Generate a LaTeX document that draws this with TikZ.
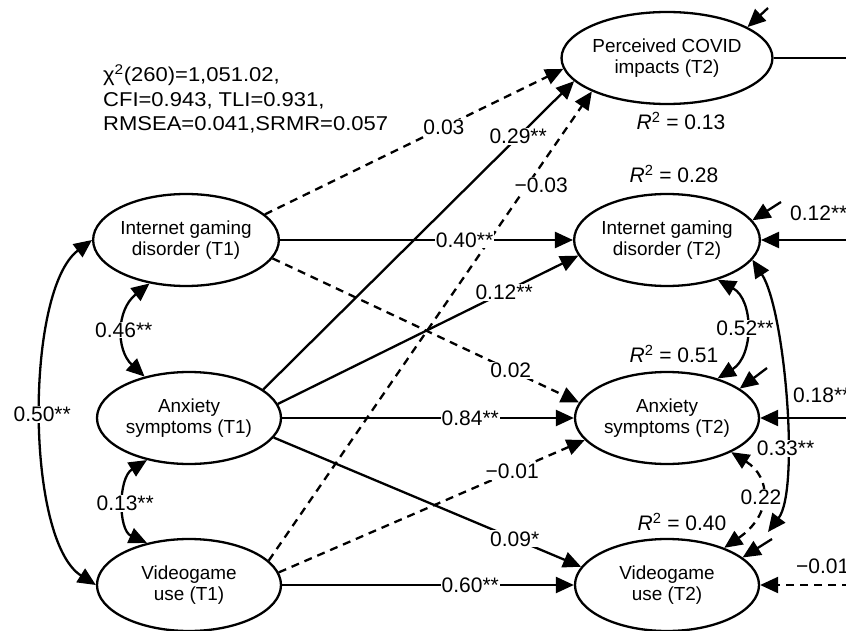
\documentclass[tikz,border=0pt]{standalone}
\usepackage{fontspec}
\setmainfont{Liberation Sans}
\newfontfamily\fitfont[FakeStretch=1.1]{Liberation Sans}
\usetikzlibrary{arrows.meta,shapes.geometric}
\tikzset{
  lv/.style={ellipse, draw, line width=2.3pt, minimum width=184pt, minimum height=92pt,
    inner sep=0pt, align=center, font=\fontsize{18.9}{21}\selectfont},
  tipa/.tip={Triangle[length=18pt,width=16pt]},
  pathline/.style={line width=2.3pt, -tipa},
  plain/.style={line width=2.3pt},
  cov/.style={line width=2.3pt, tipa-tipa},
  dsh/.style={dash pattern=on 8pt off 6pt},
  lbl/.style={fill=white, inner sep=1pt, font=\fontsize{21}{24}\selectfont},
  edgelbl/.style={inner sep=0pt, anchor=west, font=\fontsize{21}{24}\selectfont},
  rsq/.style={inner sep=0pt, font=\fontsize{21}{24}\selectfont},
  fitline/.style={inner sep=0pt, anchor=base west, font=\fitfont\fontsize{20}{24}\selectfont},
}
\begin{document}
\begin{tikzpicture}[x=1pt,y=-1pt]
\useasboundingbox (0,0) rectangle (846,631);
\clip (0,0) rectangle (846,631);

% latent variables
\node[lv] (igd1) at (186,240) {Internet gaming\\disorder (T1)};
\node[lv] (anx1) at (189,418) {Anxiety\\symptoms (T1)};
\node[lv] (vg1)  at (189,585) {Videogame\\use (T1)};
\node[lv] (cov2) at (667,58)  {Perceived COVID\\impacts (T2)};
\node[lv] (igd2) at (667,240) {Internet gaming\\disorder (T2)};
\node[lv] (anx2) at (667,418) {Anxiety\\symptoms (T2)};
\node[lv] (vg2)  at (667,585) {Videogame\\use (T2)};

% fit statistics
\node[fitline] (fit1) at (103,82)  {χ\textsuperscript{2}(260)=1,051.02,};
\node[fitline] (fit2) at (103,107) {CFI=0.943, TLI=0.931,};
\node[fitline] (fit3) at (103,131) {RMSEA=0.041,SRMR=0.057};

% R squared
\node[rsq] (r2cov) at (681,121) {\textit{R}\textsuperscript{2} = 0.13};
\node[rsq] (r2igd) at (674,174) {\textit{R}\textsuperscript{2} = 0.28};
\node[rsq] (r2anx) at (674,354) {\textit{R}\textsuperscript{2} = 0.51};
\node[rsq] (r2vg)  at (682,522) {\textit{R}\textsuperscript{2} = 0.40};

% free ends
\coordinate (rcov) at (768,8);
\coordinate (rigd) at (781,202);
\coordinate (ranx) at (767,368);
\coordinate (rvg)  at (772,539);
\coordinate (ecov) at (850,58);
\coordinate (eigd) at (850,240);
\coordinate (eanx) at (850,418);
\coordinate (evg)  at (850,585);
\coordinate (c33)  at (768,532);

% paths to COVID
\draw[pathline,dsh] (igd1.18) -- node[lbl,pos=0.6] (l1) {0.03} (cov2.186);
\draw[pathline] (anx1.21) -- node[lbl,pos=0.82] (l2) {0.29**} (cov2.194);
\draw[pathline,dsh] (vg1.17) -- node[lbl,pos=0.8,xshift=14pt] (l3) {−0.03} (cov2.204);

% cross-lagged and autoregressive paths
\draw[pathline] (igd1.east) -- node[lbl,pos=0.63] (l4) {0.40**} (igd2.west);
\draw[pathline,dsh] (igd1.-12) -- node[lbl,pos=0.777] (l5) {0.02} (anx2.170);
\draw[pathline] (anx1.9) -- node[lbl,pos=0.753] (l6) {0.12**} (igd2.190);
\draw[pathline] (anx1.east) -- node[lbl,pos=0.645] (l7) {0.84**} (anx2.west);
\draw[pathline] (anx1.-13) -- node[lbl,pos=0.784] (l8) {0.09*} (vg2.168);
\draw[pathline,dsh] (vg1.8) -- node[lbl,pos=0.763] (l9) {−0.01} (anx2.195);
\draw[pathline] (vg1.east) -- node[lbl,pos=0.645] (l10) {0.60**} (vg2.west);

% T1 covariances
\draw[cov] (igd1.west) .. controls (25,290) and (25,540) .. (vg1.west) node[lbl,pos=0.5] (c1) {0.50**};
\draw[cov] (igd1.230) .. controls (116,310) and (116,350) .. (anx1.137) node[lbl,pos=0.5] (c2) {0.46**};
\draw[cov] (anx1.225) .. controls (118,478) and (118,530) .. (vg1.135) node[lbl,pos=0.5] (c3) {0.13**};

% T2 residual covariances
\draw[cov] (igd2.-38) .. controls (754,300) and (754,356) .. (anx2.38) node[lbl,pos=0.5] (c4) {0.52**};
\draw[cov] (igd2.-13) .. controls (785,310) and (800,490) .. (c33) node[lbl,pos=0.65] (c5) {0.33**};
\draw[cov,dsh] (anx2.-28) .. controls (772,478) and (772,515) .. (vg2.33) node[lbl,pos=0.5] (c6) {0.22};

% residual arrows
\draw[pathline] (rcov) -- (cov2.21);
\draw[pathline] (rigd) -- (igd2.13);
\draw[pathline] (ranx) -- (anx2.22);
\draw[pathline] (rvg) -- (vg2.20);

% paths leaving to the right
\draw[plain] (cov2.east) -- (ecov);
\draw[pathline] (eigd) -- (igd2.east);
\draw[pathline] (eanx) -- (anx2.east);
\draw[pathline,dsh] (evg) -- (vg2.east);
\node[edgelbl] (e1) at (790,213) {0.12**};
\node[edgelbl] (e2) at (793,395) {0.18**};
\node[edgelbl] (e3) at (796,566) {−0.01};
\end{tikzpicture}
\end{document}
